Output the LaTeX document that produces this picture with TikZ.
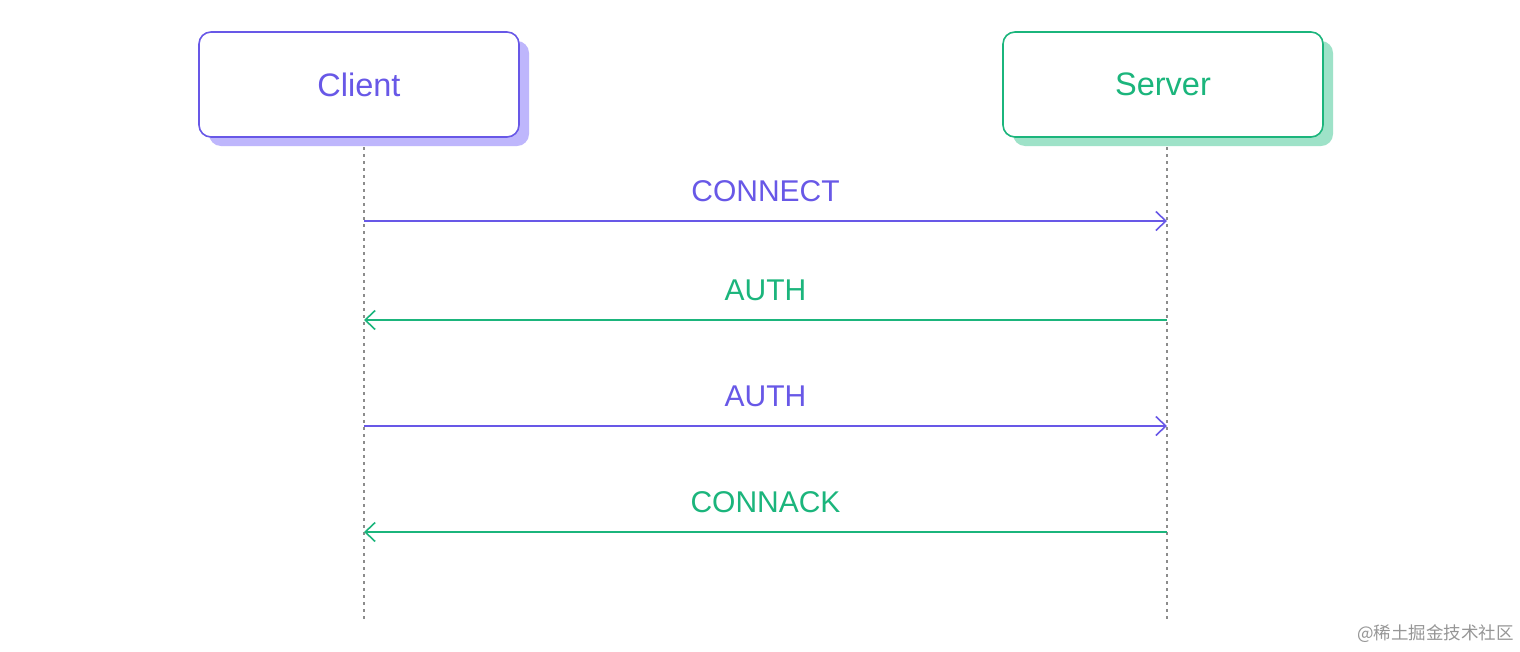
\documentclass[tikz,border=0pt]{standalone}
\usepackage{fontspec}
\setmainfont{Liberation Sans}
\newfontfamily\cjk{Noto Sans CJK SC}
\usetikzlibrary{arrows.meta}
\definecolor{cpurple}{RGB}{104,88,231}
\definecolor{cpshadow}{RGB}{190,182,252}
\definecolor{cgreen}{RGB}{27,181,124}
\definecolor{cgshadow}{RGB}{158,226,200}
\definecolor{lgray}{RGB}{140,140,140}
\definecolor{wmgray}{RGB}{150,150,150}
\begin{document}
\begin{tikzpicture}[x=1pt,y=-1pt]
\tikzset{
  actor/.style={draw, line width=1.6pt, rounded corners=12pt, fill=white,
    minimum width=320pt, minimum height=105pt, inner sep=0pt,
    font=\fontsize{32.5}{36}\selectfont},
  shadowbox/.style={rounded corners=12pt, minimum width=320pt,
    minimum height=105pt, inner sep=0pt},
  life/.style={draw=lgray, line width=2.5pt, dash pattern=on 2.5pt off 4.5pt},
  msg/.style={line width=1.6pt,
    -{Straight Barb[length=10pt,width=19pt,line width=1.6pt]}},
  lbl/.style={font=\fontsize{30}{34}\selectfont, inner sep=0pt}
}
\fill[white] (0,0) rectangle (1520,651);
\useasboundingbox (0,0) rectangle (1520,651);

% actors
\node[shadowbox, fill=cpshadow] (clientsh) at (369,93.5) {};
\node[actor, draw=cpurple, text=cpurple] (client) at (359,84.5) {Client};
\node[shadowbox, fill=cgshadow] (serversh) at (1173,93.5) {};
\node[actor, draw=cgreen, text=cgreen] (server) at (1163,84.5) {Server};

% lifelines
\coordinate (ctop) at (364,147);
\coordinate (cbot) at (364,621);
\coordinate (stop) at (1167,147);
\coordinate (sbot) at (1167,621);
\draw[life] (ctop) -- (cbot);
\draw[life] (stop) -- (sbot);

% message anchors
\coordinate (c1) at (364,221);
\coordinate (s1) at (1167,221);
\coordinate (c2) at (364,320);
\coordinate (s2) at (1167,320);
\coordinate (c3) at (364,426);
\coordinate (s3) at (1167,426);
\coordinate (c4) at (364,532);
\coordinate (s4) at (1167,532);

\draw[msg, cpurple] (c1) -- (s1)
  node[lbl, midway, yshift=30pt, text=cpurple] (m1) {CONNECT};
\draw[msg, cgreen] (s2) -- (c2)
  node[lbl, midway, yshift=30pt, text=cgreen] (m2) {AUTH};
\draw[msg, cpurple] (c3) -- (s3)
  node[lbl, midway, yshift=30pt, text=cpurple] (m3) {AUTH};
\draw[msg, cgreen] (s4) -- (c4)
  node[lbl, midway, yshift=30pt, text=cgreen] (m4) {CONNACK};

% watermark
\node[anchor=east, text=wmgray, inner sep=0pt,
  font=\cjk\fontsize{17.5}{20}\selectfont] (wm) at (1514,634) {@稀土掘金技术社区};
\end{tikzpicture}
\end{document}
